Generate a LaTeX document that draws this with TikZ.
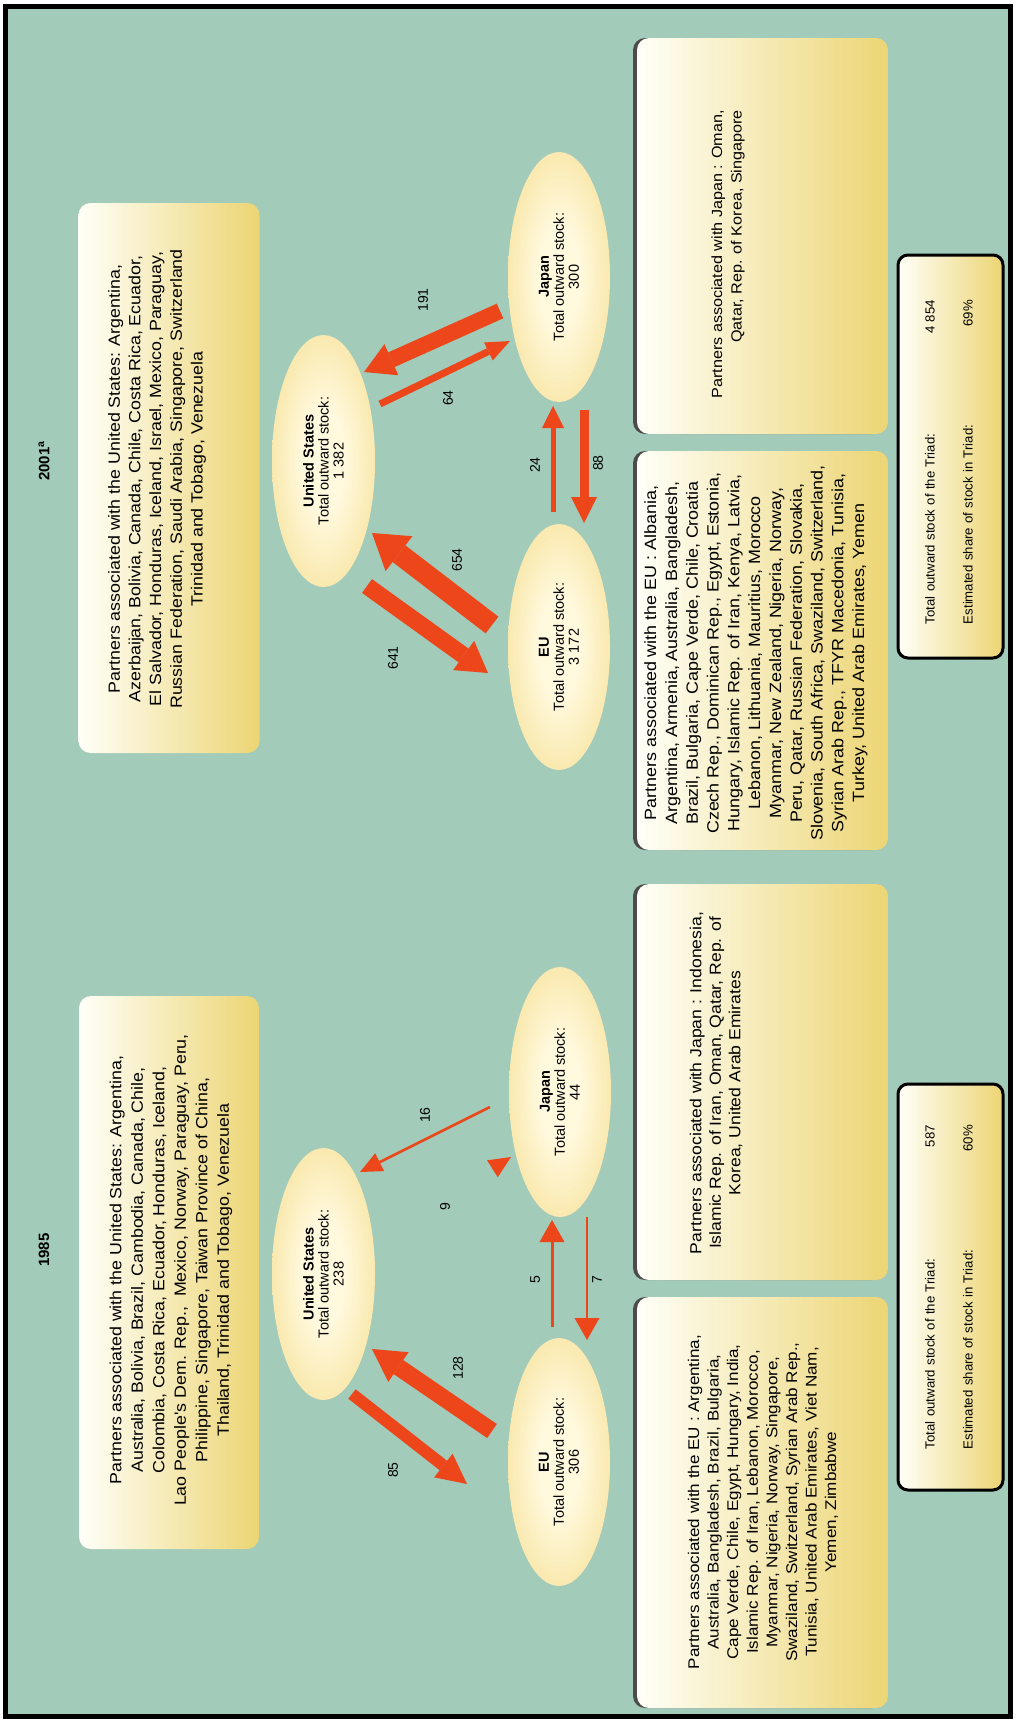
\documentclass[tikz,border=0pt]{standalone}
\usepackage{fontspec}
\setmainfont{Liberation Sans}
\newfontfamily\partfont{Liberation Sans}[FakeStretch=1.1]
\usetikzlibrary{shapes.geometric,arrows.meta,shadows}
\definecolor{bgteal}{RGB}{162,203,186}
\definecolor{boxgold}{RGB}{236,213,116}
\definecolor{boxwhite}{RGB}{255,255,248}
\definecolor{elin}{RGB}{255,249,222}
\definecolor{elmid}{RGB}{248,228,160}
\definecolor{elout}{RGB}{240,205,108}
\definecolor{fred}{RGB}{236,70,26}
\pgfdeclareradialshading{elshade}{\pgfpoint{0bp}{0bp}}{color(0bp)=(elin); color(10bp)=(elin); color(30bp)=(elmid); color(50bp)=(elout); color(70bp)=(elout)}
\begin{document}
\begin{tikzpicture}[x=1pt,y=-1pt,
  pbox/.style={rectangle, rounded corners=12pt, left color=boxwhite, right color=boxgold, inner sep=0pt},
  pshadow/.style={drop shadow={shadow xshift=-4pt, shadow yshift=0pt, fill=black!70, opacity=1}},
  ptext/.style={rotate=90, align=center, font=\partfont\fontsize{15.5}{19.5}\selectfont, inner sep=0pt},
  elnode/.style={ellipse, rotate=90, shading=elshade, align=center, inner sep=0pt, font=\fontsize{14.5}{15}\selectfont},
  sumbox/.style={rectangle, rounded corners=10pt, draw=black, line width=3pt, left color=boxwhite, right color=boxgold, inner sep=0pt},
  sumtext/.style={rotate=90, align=left, text width=324pt, inner sep=0pt, font=\fontsize{13.2}{38}\selectfont},
  numlab/.style={rotate=90, font=\fontsize{14}{16}\selectfont, inner sep=0pt},
  titlelab/.style={rotate=90, font=\bfseries\fontsize{15}{17}\selectfont, inner sep=0pt},
  flow/.style={draw=fred, line cap=butt}]
% background and frame
\fill[white] (0,0) rectangle (1016,1722);
\draw[line width=5pt, fill=bgteal] (5.5,6) rectangle (1010.5,1716.5);

% titles
\node[titlelab] (t01) at (44,461) {2001\textsuperscript{a}};
\node[titlelab] (t85) at (44,1250) {1985};

% partner boxes
\node[pbox, minimum width=181pt, minimum height=550pt] (us01box) at (169,478) {};
\node[pbox, minimum width=180pt, minimum height=553pt] (us85box) at (169,1272.5) {};
\node[pbox, pshadow, minimum width=251pt, minimum height=396pt] (jp01box) at (762.5,236) {};
\node[pbox, pshadow, minimum width=251pt, minimum height=399pt] (eu01box) at (762.5,650.5) {};
\node[pbox, pshadow, minimum width=251pt, minimum height=396pt] (jp85box) at (762.5,1082) {};
\node[pbox, pshadow, minimum width=251pt, minimum height=411pt] (eu85box) at (762.5,1502.5) {};

\node[ptext, font=\partfont\fontsize{16.2}{20.7}\selectfont] (us01t) at (157,479) {Partners associated with the United States: Argentina,\\
Azerbaijan, Bolivia, Canada, Chile, Costa Rica, Ecuador,\\
El Salvador, Honduras, Iceland, Israel, Mexico, Paraguay,\\
Russian Federation, Saudi Arabia, Singapore, Switzerland\\
Trinidad and Tobago, Venezuela};
\node[ptext, font=\partfont\fontsize{16.2}{21.5}\selectfont] (us85t) at (171,1270) {Partners associated with the United States: Argentina,\\
Australia, Bolivia, Brazil, Cambodia, Canada, Chile,\\
Colombia, Costa Rica, Ecuador, Honduras, Iceland,\\
Lao People's Dem. Rep.,\ \ Mexico, Norway, Paraguay, Peru,\\
Philippine, Singapore, Taiwan Province of China,\\
Thailand, Trinidad and Tobago, Venezuela};
\node[ptext, align=right, anchor=east, font=\partfont\fontsize{14.7}{19.5}\selectfont] (jp01t) at (728,110) {Partners associated with Japan : Oman,\\
Qatar, Rep. of Korea, Singapore};
\node[ptext, font=\partfont\fontsize{16.3}{20.8}\selectfont] (eu01t) at (756,653) {Partners associated with the EU : Albania,\\
Argentina, Armenia, Australia, Bangladesh,\\
Brazil, Bulgaria, Cape Verde, Chile, Croatia\\
Czech Rep., Dominican Rep., Egypt, Estonia,\\
Hungary, Islamic Rep. of Iran, Kenya, Latvia,\\
Lebanon, Lithuania, Mauritius, Morocco\\
Myanmar, New Zealand, Nigeria, Norway,\\
Peru, Qatar, Russian Federation, Slovakia,\\
Slovenia, South Africa, Swaziland, Switzerland,\\
Syrian Arab Rep., TFYR Macedonia, Tunisia,\\
Turkey, United Arab Emirates, Yemen};
\node[ptext, font=\partfont\fontsize{16}{19.5}\selectfont] (jp85t) at (716,1083) {Partners associated with Japan : Indonesia,\\
Islamic Rep. of Iran, Oman, Qatar, Rep. of\\
Korea, United Arab Emirates};
\node[ptext, font=\partfont\fontsize{15.5}{19.6}\selectfont] (eu85t) at (763,1502) {Partners associated with the EU : Argentina,\\
Australia, Bangladesh, Brazil, Bulgaria,\\
Cape Verde, Chile, Egypt, Hungary, India,\\
Islamic Rep. of Iran, Lebanon, Morocco,\\
Myanmar, Nigeria, Norway, Singapore,\\
Swaziland, Switzerland, Syrian Arab Rep.,\\
Tunisia, United Arab Emirates, Viet Nam,\\
Yemen, Zimbabwe};

% summary boxes
\node[sumbox, minimum width=105pt, minimum height=403pt] (sum01) at (950.5,456.5) {};
\node[sumbox, minimum width=105pt, minimum height=406pt] (sum85) at (950.5,1287) {};
\node[sumtext] (sum01t) at (949,462) {Total outward stock of the Triad:\hfill 4 854\\
Estimated share of stock in Triad:\hfill 69\%};
\node[sumtext] (sum85t) at (949,1287) {Total outward stock of the Triad:\hfill 587\\
Estimated share of stock in Triad:\hfill 60\%};

% ellipses 2001
\node[elnode, minimum width=252pt, minimum height=103pt] (us01) at (323.5,461) {\textbf{United States}\\Total outward stock:\\1 382};
\node[elnode, minimum width=250pt, minimum height=102pt] (jp01) at (559,277) {\textbf{Japan}\\Total outward stock:\\300};
\node[elnode, minimum width=246pt, minimum height=102pt] (eu01) at (559,647) {\textbf{EU}\\Total outward stock:\\3 172};
% ellipses 1985
\node[elnode, minimum width=252pt, minimum height=103pt] (us85) at (323.5,1274) {\textbf{United States}\\Total outward stock:\\238};
\node[elnode, minimum width=250pt, minimum height=102pt] (jp85) at (560,1092) {\textbf{Japan}\\Total outward stock:\\44};
\node[elnode, minimum width=248pt, minimum height=102pt] (eu85) at (559,1462) {\textbf{EU}\\Total outward stock:\\306};

% flow end points 2001
\coordinate (a654s) at (492,625);  \coordinate (a654e) at (372,533);
\coordinate (a641s) at (367,586);  \coordinate (a641e) at (488,673);
\coordinate (a191s) at (500,311);  \coordinate (a191e) at (364,372);
\coordinate (a64s)  at (380,404);  \coordinate (a64e)  at (510,341);
\coordinate (a24s)  at (553,512);  \coordinate (a24e)  at (553,406);
\coordinate (a88s)  at (584,410);  \coordinate (a88e)  at (584,523);
% flow end points 1985
\coordinate (b85s)  at (352,1394); \coordinate (b85e)  at (467,1484);
\coordinate (b128s) at (492,1431); \coordinate (b128e) at (372,1349);
\coordinate (b16s)  at (490,1107); \coordinate (b16e)  at (360,1172);
\coordinate (b9s)   at (492,1169); \coordinate (b9e)   at (511,1157);
\coordinate (b5s)   at (552,1327); \coordinate (b5e)   at (552,1220);
\coordinate (b7s)   at (587,1217); \coordinate (b7e)   at (587,1340);

% flows 2001
\draw[flow, line width=21pt, -{Triangle[width=44pt,length=34pt,line width=0pt]}] (a654s) -- (a654e);
\draw[flow, line width=17pt, -{Triangle[width=36pt,length=30pt,line width=0pt]}] (a641s) -- (a641e);
\draw[flow, line width=16pt, -{Triangle[width=34pt,length=30pt,line width=0pt]}] (a191s) -- (a191e);
\draw[flow, line width=7pt, -{Triangle[width=20pt,length=24pt,line width=0pt]}] (a64s) -- (a64e);
\draw[flow, line width=5pt, -{Triangle[width=22pt,length=22pt,line width=0pt]}] (a24s) -- (a24e);
\draw[flow, line width=9pt, -{Triangle[width=26pt,length=26pt,line width=0pt]}] (a88s) -- (a88e);
% flows 1985
\draw[flow, line width=12pt, -{Triangle[width=30pt,length=30pt,line width=0pt]}] (b85s) -- (b85e);
\draw[flow, line width=17pt, -{Triangle[width=36pt,length=32pt,line width=0pt]}] (b128s) -- (b128e);
\draw[flow, line width=2.5pt, -{Triangle[width=20pt,length=22pt,line width=0pt]}] (b16s) -- (b16e);
\draw[flow, line width=0.5pt, -{Triangle[width=20pt,length=22pt,line width=0pt]}] (b9s) -- (b9e);
\draw[flow, line width=3pt, -{Triangle[width=25pt,length=22pt,line width=0pt]}] (b5s) -- (b5e);
\draw[flow, line width=2.5pt, -{Triangle[width=25pt,length=22pt,line width=0pt]}] (b7s) -- (b7e);

% flow labels 2001
\node[numlab] (l191) at (423,300) {191};
\node[numlab] (l64)  at (448,398) {64};
\node[numlab] (l24)  at (535,465) {24};
\node[numlab] (l88)  at (598,463) {88};
\node[numlab] (l654) at (457,560) {654};
\node[numlab] (l641) at (393,658) {641};
% flow labels 1985
\node[numlab] (l16)  at (425,1115) {16};
\node[numlab] (l9)   at (445,1207) {9};
\node[numlab] (l5)   at (535,1280) {5};
\node[numlab] (l7)   at (597,1280) {7};
\node[numlab] (l128) at (458,1368) {128};
\node[numlab] (l85)  at (393,1470) {85};
\end{tikzpicture}
\end{document}
